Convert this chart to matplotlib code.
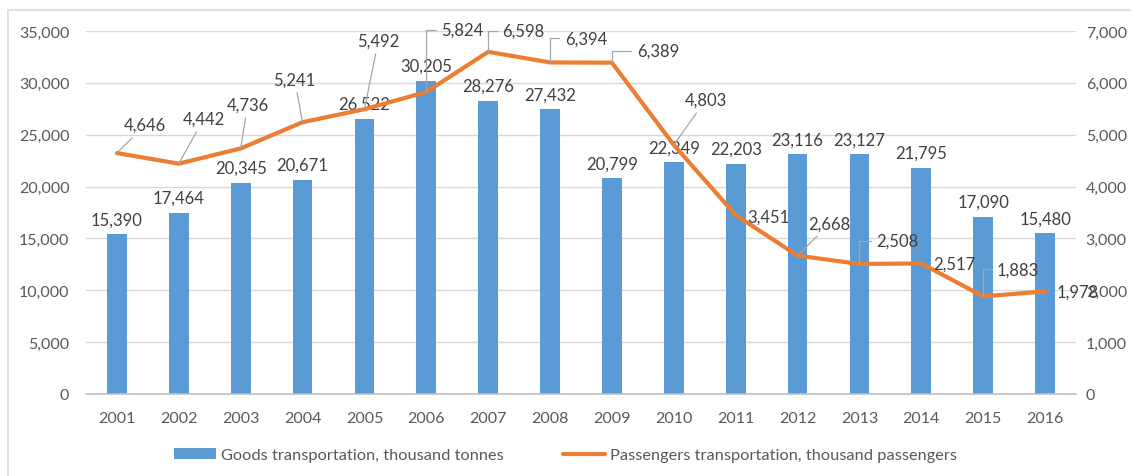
import matplotlib.pyplot as plt
import numpy as np
from matplotlib.patches import Rectangle

years = ["2001", "2002", "2003", "2004", "2005", "2006", "2007", "2008",
         "2009", "2010", "2011", "2012", "2013", "2014", "2015", "2016"]
goods = [15390, 17464, 20345, 20671, 26522, 30205, 28276, 27432,
         20799, 22349, 22203, 23116, 23127, 21795, 17090, 15480]
passengers = [4646, 4442, 4736, 5241, 5492, 5824, 6598, 6394,
              6389, 4803, 3451, 2668, 2508, 2517, 1883, 1978]

# where each passenger label sits relative to its point (pixels) and
# how its leader line is drawn: None = no line, "s" = straight, "e" = elbow
label_offsets = [(28, 28), (25, 45), (7, 44), (-8, 43), (14, 69), (36, 62),
                 (35, 21), (36, 24), (46, 12), (32, 45), (33, -2), (32, 32),
                 (38, 23), (33, 0), (35, 27), (33, 0)]
leaders = ["s", "s", "s", "s", "s", "e", "e", "e", "e", "s", None, "s",
           "e", None, "e", None]

BLUE = "#5b9bd5"
ORANGE = "#ed7d31"
TEXT = "#404040"
TICK = "#595959"
GRID = "#d9d9d9"

plt.rcParams["font.family"] = ["Lato", "DejaVu Sans"]

fig = plt.figure(figsize=(11.31, 4.77), dpi=100)
fig.patches.append(Rectangle((8 / 1131, -0.1), 1.2, 1 - 11 / 477 + 0.1,
                             transform=fig.transFigure, fill=False,
                             edgecolor="#d9d9d9", lw=1.2))
ax = fig.add_axes([86 / 1131, 1 - 395 / 477, 990 / 1131, 363 / 477])
x = np.arange(len(years))

ax.bar(x, goods, width=0.32, color=BLUE, zorder=2,
       label="Goods transportation, thousand tonnes")
for xi, v in zip(x, goods):
    ax.annotate(f"{v:,}", (xi, v), xytext=(0, 7), textcoords="offset pixels",
                ha="center", va="bottom", fontsize=12, color=TEXT)

ax.set_xlim(-0.5, len(years) - 0.5)
ax.set_ylim(0, 35000)
ax.set_yticks(np.arange(0, 35001, 5000))
ax.yaxis.set_major_formatter(plt.FuncFormatter(lambda v, p: f"{int(v):,}"))
ax.set_xticks(x)
ax.set_xticklabels(years)
ax.grid(axis="y", color=GRID, lw=1, zorder=0)
ax.set_axisbelow(True)
for s in ["top", "left", "right"]:
    ax.spines[s].set_visible(False)
ax.spines["bottom"].set_color("#bfbfbf")
ax.spines["bottom"].set_linewidth(1.2)
ax.tick_params(axis="both", length=0, colors=TICK, labelsize=11.5)
ax.tick_params(axis="x", pad=12)
ax.tick_params(axis="y", pad=12)

ax2 = ax.twinx()
ax2.plot(x, passengers, color=ORANGE, lw=3, solid_capstyle="round",
         zorder=3, label="Passengers transportation, thousand passengers")
ax2.set_ylim(0, 7000)
ax2.set_yticks(np.arange(0, 7001, 1000))
ax2.yaxis.set_major_formatter(plt.FuncFormatter(lambda v, p: f"{int(v):,}"))
for s in ["top", "left", "right", "bottom"]:
    ax2.spines[s].set_visible(False)
ax2.tick_params(axis="y", length=0, colors=TICK, labelsize=11.5, pad=7)

for xi, v, (dx, dy), kind in zip(x, passengers, label_offsets, leaders):
    props = None
    if kind == "s":
        props = dict(arrowstyle="-", color="#a6a6a6", lw=0.9,
                     shrinkA=2, shrinkB=0)
    elif kind == "e":
        props = dict(arrowstyle="-", color="#a6a6a6", lw=0.9,
                     shrinkA=2, shrinkB=0, relpos=(0, 0.5),
                     connectionstyle="angle,angleA=180,angleB=90,rad=0")
    ax2.annotate(f"{v:,}", (xi, v), xytext=(dx, dy),
                 textcoords="offset pixels", ha="center", va="center",
                 fontsize=12, color=TEXT, arrowprops=props, zorder=4)

h1, l1 = ax.get_legend_handles_labels()
h2, l2 = ax2.get_legend_handles_labels()
fig.legend(h1 + h2, l1 + l2, loc="center", bbox_to_anchor=(0.5, 1 - 456 / 477),
           ncol=2, frameon=False, fontsize=11.8, labelcolor=TICK,
           handlelength=2.6, handletextpad=0.3, columnspacing=3.6)

fig.savefig("out.png", dpi=100)
